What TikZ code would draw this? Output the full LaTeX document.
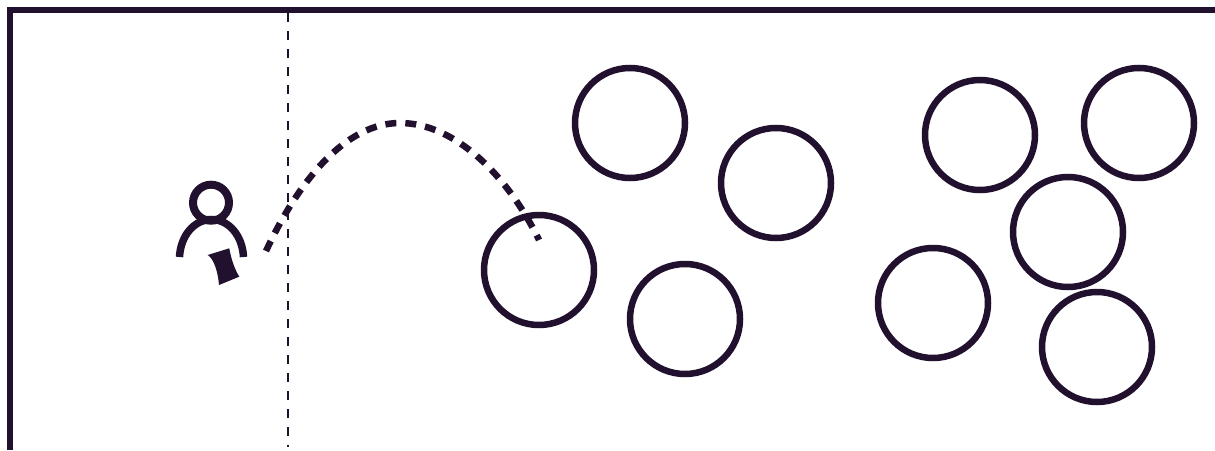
\documentclass[tikz,border=0pt]{standalone}
\usepackage{tikz}
\usetikzlibrary{positioning,calc}
\definecolor{inkdark}{HTML}{21102E}
\tikzstyle{wall} = [draw=inkdark, line width=6.5pt]
\tikzstyle{ball} = [circle, draw=inkdark, line width=6.5pt, minimum size=110pt, inner sep=0pt, outer sep=0pt]
\tikzstyle{headring} = [circle, draw=inkdark, line width=8pt, minimum size=36pt, inner sep=0pt, outer sep=0pt]
\tikzstyle{limit} = [draw=inkdark, line width=2.7pt, dash pattern=on 9pt off 9pt]
\tikzstyle{flight} = [draw=inkdark, line width=6.5pt, dash pattern=on 11pt off 9pt]

\begin{document}
\begin{tikzpicture}[x=1pt, y=-1pt]
\useasboundingbox (0,0) rectangle (1215,450);

% Frame corners
\coordinate (framebottom) at (10,450);
\coordinate (framecorner) at (10,10);
\coordinate (frameright) at (1215,10);
\draw[wall, line cap=butt, line join=miter] (framebottom) -- (framecorner) -- (frameright);

% Limit line
\coordinate (limittop) at (288,13);
\coordinate (limitbottom) at (288,447);
\path[limit] (limittop) -- (limitbottom);

% Left group of balls
\node[ball] (ballone) at (630,123) {};
\node[ball] (balltwo) at (776,183) {};
\node[ball] (ballthree) at (539,270) {};
\node[ball] (ballfour) at (685,319) {};

% Right group of balls
\node[ball] (ballfive) at (980,135) {};
\node[ball] (ballsix) at (1139,123) {};
\node[ball] (ballseven) at (1068,232) {};
\node[ball] (balleight) at (933,303) {};
\node[ball] (ballnine) at (1097,347) {};

% Player
\node[headring] (head) at (211,202.7) {};
\coordinate (bodyleft) at (179.5,257);
\coordinate (bodyright) at (243.5,257);
\draw[draw=inkdark, line width=7.5pt] (bodyleft) .. controls (180.5,236) and (194,219.5) .. (211.5,219.5) .. controls (229,219.5) and (242.5,236) .. (bodyright);

% Item held by the player
\coordinate (itema) at (207.7,255);
\coordinate (itemb) at (229.3,248.3);
\coordinate (itemc) at (239.3,276.7);
\coordinate (itemd) at (219,285);
\fill[inkdark] (itema) .. controls (214,259) and (218,272) .. (itemd) -- (itemc) .. controls (234,268) and (231,258) .. (itemb) -- cycle;

% Flight path
\coordinate (flightstart) at (266,251);
\coordinate (flighttop) at (400,123);
\coordinate (flightend) at (539,240);
\path[flight] (flightstart) .. controls (298,182) and (345,123) .. (flighttop) .. controls (455,123) and (508,176) .. (flightend);

\end{tikzpicture}
\end{document}
